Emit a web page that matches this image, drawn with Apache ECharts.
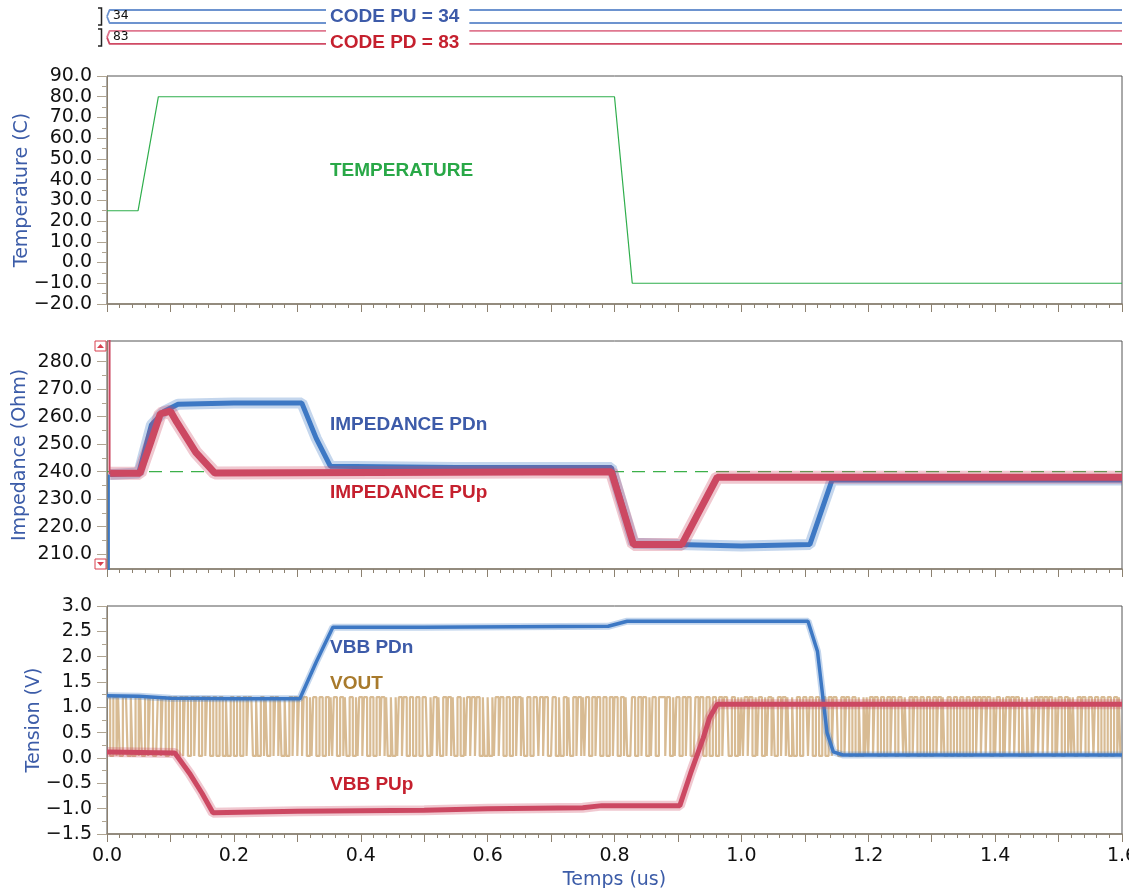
<!DOCTYPE html>
<html>
<head>
<meta charset="utf-8">
<title>Temperature / Impedance / Tension</title>
<script src="https://cdn.jsdelivr.net/npm/echarts@6/dist/echarts.min.js"></script>
<style>
html, body { margin: 0; padding: 0; background: #fff; }
#chart { width: 1129px; height: 888px; }
</style>
</head>
<body>
<div id="chart"></div>
<script>
// time axis (us)
const timeTicks = [0, 0.2, 0.4, 0.6, 0.8, 1.0, 1.2, 1.4, 1.6];

// digital buses
const codePU = 34;
const codePD = 83;

// temperature (C)
const tempTicks = [-20, 90, 10]; // min, max, step
const tempData = [[0, 25], [0.049, 25], [0.081, 80], [0.8, 80], [0.828, -10], [1.6, -10]];

// impedance (Ohm)
const impTicks = [210, 220, 230, 240, 250, 260, 270, 280];
const impMinorTicks = [205, 215, 225, 235, 245, 255, 265, 275, 285];
const impRef = 240;
const impPDnStart = [[0.003, 190], [0.003, 239]];
const impPDn = [[0.005, 239], [0.05, 239.5], [0.07, 257], [0.09, 262], [0.112, 264.5],
  [0.2, 265], [0.307, 265], [0.33, 252], [0.352, 242], [0.55, 241.5], [0.795, 241.5],
  [0.83, 214], [0.9, 213.5], [1.0, 213], [1.108, 213.5], [1.143, 237], [1.6, 237]];
const impPUpStart = [[0.004, 300], [0.004, 239]];
const impPUp = [[0.005, 239.4], [0.052, 239.4], [0.068, 250], [0.084, 261], [0.1, 262],
  [0.11, 258], [0.14, 247], [0.17, 239.5], [0.795, 240], [0.83, 213.5], [0.906, 213.5],
  [0.93, 224], [0.962, 238], [1.6, 238]];

// tension (V)
const voltTicks = [-1.5, 3.0, 0.5];
const vbbPDn = [[0, 1.23], [0.05, 1.22], [0.1, 1.18], [0.2, 1.17], [0.304, 1.17], [0.33, 1.9],
  [0.356, 2.58], [0.5, 2.58], [0.79, 2.6], [0.82, 2.7], [1.105, 2.7], [1.12, 2.1],
  [1.135, 0.5], [1.145, 0.12], [1.16, 0.06], [1.6, 0.06]];
const vbbPUp = [[0, 0.12], [0.107, 0.1], [0.13, -0.3], [0.15, -0.7], [0.167, -1.08],
  [0.3, -1.05], [0.5, -1.03], [0.6, -1.0], [0.75, -0.98], [0.78, -0.94], [0.903, -0.94],
  [0.92, -0.3], [0.94, 0.4], [0.95, 0.8], [0.962, 1.06], [1.6, 1.06]];
const voutStep = 0.0025;
const voutHigh = 1.2;
const voutLow = 0.04;
const voutBits = [
  '1100110100', '1110010011', '0100110110', '0011011001', '1011001101', '1001101100',
  '1101100110', '0110010011', '0011001101', '1100100110', '1001101101', '0010011011',
  '0110110010', '1100110011', '0101100110', '1001100101', '1011001100', '1101101001',
  '0010110110', '0110011001', '1100101101', '0011011010', '0110010110', '1101100100',
  '1001011011', '0011001101', '1010011001', '1101101100', '0110010011', '0100110110',
  '1011001101', '1001100110', '1100110100', '0110011011', '0010110011', '1101100101',
  '1001101100', '0110110011', '0011001101', '1100110010', '1011011001', '0110010110',
  '1001101101', '0010011001', '1101100110', '0110011011', '1001101100', '1100100101',
  '0110110011', '0011011001', '1101001101', '1001100110', '0110110100', '1100110011',
  '0011001101', '1011011001', '0110010110', '1101100100', '1001011011', '0110110010',
  '1100110101', '0011011001', '1101100110', '0110011010'
].join('');

const BLUE = '#3d78c4';
const RED = '#cc4862';
const TAN = '#d8bb93';
const GREEN = '#2fae4c';
const AXIS = '#8c8170';
const NAME_BLUE = '#3c5ca8';

const voutData = [];
for (let i = 0; i < voutBits.length; i++) {
  voutData.push([i * voutStep, voutBits[i] === '1' ? voutHigh : voutLow]);
}
voutData.push([1.6, voutData[voutData.length - 1][1]]);

const fmt = function (v) {
  return v.toFixed(1).replace('-', '\u2212');
};

const chart = echarts.init(document.getElementById('chart'));

const panels = [
  {top: 76, height: 228},
  {top: 341, height: 228},
  {top: 606, height: 228}
];

const grid = panels.map(function (p) {
  return {
    left: 107, right: 7, top: p.top, height: p.height,
    show: true, borderColor: '#555', borderWidth: 1,
    outerBoundsMode: 'none', containLabel: false
  };
});
grid.push({left: 107, right: 7, top: 3.5, height: 52, show: false, outerBoundsMode: 'none'});

const xAxis = [0, 1, 2].map(function (i) {
  return {
    gridIndex: i, type: 'value', min: 0, max: 1.6, interval: 0.1,
    name: i === 2 ? 'Temps (us)' : '',
    nameLocation: 'middle', nameGap: 37, nameMoveOverlap: false,
    nameTextStyle: {color: NAME_BLUE, fontSize: 19, fontFamily: 'DejaVu Sans', verticalAlign: 'top'},
    axisLine: {show: true, onZero: false, lineStyle: {color: AXIS, width: 1.5}},
    axisTick: {show: true, length: 8, lineStyle: {color: AXIS}},
    minorTick: {show: true, splitNumber: 5, length: 4, lineStyle: {color: AXIS}},
    splitLine: {show: false},
    axisLabel: {
      show: i === 2, margin: 13, color: '#111', fontSize: 19, fontFamily: 'DejaVu Sans',
      showMinLabel: true, showMaxLabel: true,
      formatter: function (v) {
        const k = Math.round(v * 10);
        return k % 2 === 0 && timeTicks.indexOf(k / 10) >= 0 ? (k / 10).toFixed(1) : '';
      }
    }
  };
});
xAxis.push({gridIndex: 3, type: 'value', min: 0, max: 1.6, show: false});

const yBase = function (gridIndex, name, nameGap) {
  return {
    gridIndex: gridIndex, type: 'value', position: 'left',
    name: name, nameLocation: 'middle', nameGap: nameGap, nameMoveOverlap: false,
    nameTextStyle: {color: NAME_BLUE, fontSize: 19, fontFamily: 'DejaVu Sans'},
    axisLine: {show: true, onZero: false, lineStyle: {color: AXIS, width: 1}},
    axisTick: {show: true, length: 10, lineStyle: {color: '#b0a592'}},
    splitLine: {show: false},
    axisLabel: {
      margin: 15, color: '#111', fontSize: 19, fontFamily: 'DejaVu Sans',
      showMinLabel: true, showMaxLabel: true, hideOverlap: false, formatter: fmt
    }
  };
};

const yTemp = yBase(0, 'Temperature (C)', 75.5);
yTemp.min = tempTicks[0];
yTemp.max = tempTicks[1];
yTemp.interval = tempTicks[2];
yTemp.minorTick = {show: true, splitNumber: 2, length: 5, lineStyle: {color: '#b0a592'}};

const yImp = yBase(1, 'Impedance (Ohm)', 77.5);
yImp.min = 204.6;
yImp.max = 287.5;
yImp.axisLabel.customValues = impTicks;
yImp.axisTick.customValues = impTicks;

const yImpMinor = {
  gridIndex: 1, type: 'value', position: 'left', min: 204.6, max: 287.5,
  axisLine: {show: false},
  axisTick: {show: true, length: 5, customValues: impMinorTicks, lineStyle: {color: '#b0a592'}},
  axisLabel: {show: false}, splitLine: {show: false}
};

const yVolt = yBase(2, 'Tension (V)', 63.5);
yVolt.min = voltTicks[0];
yVolt.max = voltTicks[1];
yVolt.interval = voltTicks[2];
yVolt.minorTick = {show: true, splitNumber: 2, length: 5, lineStyle: {color: '#b0a592'}};

const yBus = {gridIndex: 3, type: 'value', min: 0, max: 4, show: false};

const line = function (name, xi, yi, data, color, width, extra) {
  return Object.assign({
    name: name, type: 'line', xAxisIndex: xi, yAxisIndex: yi, data: data,
    showSymbol: false, symbol: 'none', animation: false, silent: true,
    lineStyle: {color: color, width: width}
  }, extra || {});
};

// noisy trace: a faint wide envelope under a solid core
const noisy = function (name, xi, yi, data, color, core, halo) {
  return [
    line(name + ' halo', xi, yi, data, color, halo, {lineStyle: {color: color, width: halo, opacity: 0.3}}),
    line(name, xi, yi, data, color, core)
  ];
};

const busLine = function (mid, level, color) {
  return line('bus', 3, 4, [[0, mid], [0.004, level], [1.6, level]], color, 1.8);
};

const series = [].concat(
  line('TEMPERATURE', 0, 0, tempData, GREEN, 1.2),
  line('ref', 1, 1, [[0, impRef], [1.6, impRef]], '#3cb04a', 1.2, {lineStyle: {color: '#3cb04a', width: 1.2, type: [13, 8]}}),
  line('PDn start', 1, 1, impPDnStart, BLUE, 2),
  noisy('IMPEDANCE PDn', 1, 1, impPDn, BLUE, 5, 11),
  line('PUp start', 1, 1, impPUpStart, RED, 2),
  noisy('IMPEDANCE PUp', 1, 1, impPUp, RED, 7, 13),
  line('VOUT', 2, 3, voutData, TAN, 2.2, {step: 'end'}),
  noisy('VBB PDn', 2, 3, vbbPDn, BLUE, 3.5, 7),
  noisy('VBB PUp', 2, 3, vbbPUp, RED, 5, 10),
  busLine(3.0, 3.5, '#6d93cf'),
  busLine(3.0, 2.5, '#6d93cf'),
  busLine(1.4, 1.9, '#e07890'),
  busLine(1.4, 0.9, '#d04a64')
);

const traceLabel = function (text, x, y, color) {
  return {
    type: 'text', left: x, top: y - 9, z: 100,
    style: {text: text, fill: color, font: 'bold 19px "Liberation Sans", Arial, sans-serif'}
  };
};

const busLabel = function (text, y, color) {
  return {
    type: 'text', left: 326, top: y, z: 100,
    style: {
      text: text, fill: color, font: 'bold 19px "Liberation Sans", Arial, sans-serif',
      backgroundColor: '#fff', padding: [3, 10, 1, 4]
    }
  };
};

const bracket = function (y0, y1) {
  return {
    type: 'polyline', z: 100,
    shape: {points: [[98, y0], [101.5, y0], [101.5, y1], [98, y1]]},
    style: {stroke: '#222', lineWidth: 1.5, fill: null}
  };
};

const overflowMark = function (y, up) {
  const tri = up ? [[97, y + 7], [104, y + 7], [100.5, y + 3]] : [[97, y + 3], [104, y + 3], [100.5, y + 7]];
  return [
    {type: 'rect', z: 100, shape: {x: 95, y: y, width: 11, height: 10}, style: {fill: '#fff', stroke: '#d8404f', lineWidth: 1}},
    {type: 'polygon', z: 101, shape: {points: tri}, style: {fill: '#d8404f'}}
  ];
};

const graphic = [
  traceLabel('TEMPERATURE', 330, 170, '#29a847'),
  traceLabel('IMPEDANCE PDn', 330, 424, '#3d5ba9'),
  traceLabel('IMPEDANCE PUp', 330, 492, '#c5202e'),
  traceLabel('VBB PDn', 330, 647, '#3d5ba9'),
  traceLabel('VOUT', 330, 683, '#a87a2c'),
  traceLabel('VBB PUp', 330, 784, '#c5202e'),
  busLabel('CODE PU = ' + codePU, 4, '#3d5ba9'),
  busLabel('CODE PD = ' + codePD, 30, '#c5202e'),
  bracket(8, 25),
  bracket(29, 46),
  {type: 'text', left: 113, top: 9, z: 100, style: {text: String(codePU), fill: '#111', font: '13px "DejaVu Sans Mono"'}},
  {type: 'text', left: 113, top: 30, z: 100, style: {text: String(codePD), fill: '#111', font: '13px "DejaVu Sans Mono"'}}
].concat(overflowMark(341, true), overflowMark(559, false));

chart.setOption({
  backgroundColor: '#fff',
  animation: false,
  grid: grid,
  xAxis: xAxis,
  yAxis: [yTemp, yImp, yImpMinor, yVolt, yBus],
  series: series,
  graphic: graphic
});
</script>
</body>
</html>
